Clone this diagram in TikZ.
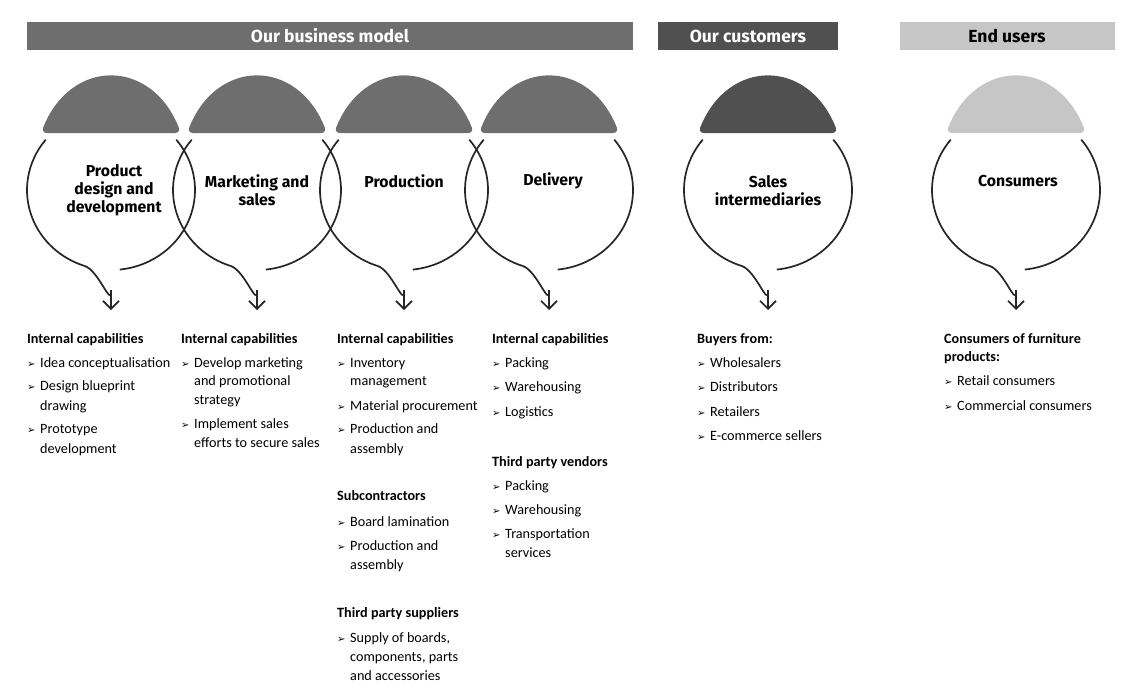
\documentclass[tikz,border=0pt]{standalone}
\usepackage{fontspec}
\setmainfont{Carlito}
\newfontfamily\hdf{Fira Sans}
\newfontfamily\blt{DejaVu Sans}
\usetikzlibrary{arrows.meta}
\definecolor{gA}{HTML}{6E6E6E}
\definecolor{gB}{HTML}{505050}
\definecolor{gC}{HTML}{C6C6C6}
\tikzset{
 hdr/.style={inner sep=0pt,font=\hdf\bfseries\fontsize{17.5}{20}\selectfont},
 lbl/.style={align=center,font=\hdf\bfseries\fontsize{15.8}{18}\selectfont},
 circ/.style={line width=1.7pt,draw=black!85},
 arr/.style={circ,-{Straight Barb[length=8pt,width=16pt,line width=1.7pt]}},
 hd/.style={anchor=base west,inner sep=0pt,font=\bfseries\fontsize{14.2}{16}\selectfont},
 it/.style={anchor=base west,inner sep=0pt,font=\fontsize{14.2}{16}\selectfont},
}
\newcommand{\bul}[3]{\node[it] at (#1,#2) {\makebox[13pt][l]{\blt\fontsize{10}{10}\selectfont ➢}#3};}
\newcommand{\cnt}[3]{\node[it] at (#1+13,#2) {#3};}
\newcommand{\stage}[3]{% cx, color, name
 \fill[#2,rounded corners=6pt] (#1-70,133) .. controls (#1-40,58) and (#1+40,58) .. (#1+70,133) -- cycle;
 \draw[circ] (#1,190) ++(219:84 and 80) arc[start angle=219,end angle=108,x radius=84,y radius=80]
   to[out=-20,in=-90] (#1,292);
 \draw[arr] (#1,290) -- (#1,310);
 \draw[circ] (#1,190) ++(-39:84 and 80) arc[start angle=-39,end angle=84,x radius=84,y radius=80];
}
\begin{document}
\begin{tikzpicture}[x=1pt,y=-1pt]
\useasboundingbox[fill=white] (0,0) rectangle (1131,697);
\fill[gA] (27,22) rectangle (633,50); \node[hdr,white] (h1) at (330,36) {Our business model};
\fill[gB] (658,22) rectangle (838,50); \node[hdr,white] (h2) at (748,36) {Our customers};
\fill[gC] (900,22) rectangle (1115,50); \node[hdr,black] (h3) at (1007,36) {End users};
\stage{111}{gA}{a}
\stage{257}{gA}{b}
\stage{404}{gA}{c}
\stage{549}{gA}{d}
\stage{768}{gB}{e}
\stage{1016}{gC}{f}
\node[lbl] (l1) at (114,190) {Product\\design and\\development};
\node[lbl] (l2) at (257,190) {Marketing and\\sales};
\node[lbl] (l3) at (404,181) {Production};
\node[lbl] (l4) at (553,181) {Delivery};
\node[lbl] (l5) at (768,191) {Sales\\intermediaries};
\node[lbl] (l6) at (1018,181) {Consumers};
% column 1
\node[hd] at (27,343) {Internal capabilities};
\bul{27}{367}{Idea conceptualisation}
\bul{27}{390}{Design blueprint}\cnt{27}{410}{drawing}
\bul{27}{433}{Prototype}\cnt{27}{453}{development}
% column 2
\node[hd] at (181,343) {Internal capabilities};
\bul{181}{367}{Develop marketing}\cnt{181}{385}{and promotional}\cnt{181}{404}{strategy}
\bul{181}{428}{Implement sales}\cnt{181}{447}{efforts to secure sales}
% column 3
\node[hd] at (337,343) {Internal capabilities};
\bul{337}{367}{Inventory}\cnt{337}{385}{management}
\bul{337}{410}{Material procurement}
\bul{337}{433}{Production and}\cnt{337}{453}{assembly}
\node[hd] at (337,500) {Subcontractors};
\bul{337}{526}{Board lamination}
\bul{337}{550}{Production and}\cnt{337}{569}{assembly}
\node[hd] at (337,617) {Third party suppliers};
\bul{337}{642}{Supply of boards,}\cnt{337}{661}{components, parts}\cnt{337}{680}{and accessories}
% column 4
\node[hd] at (492,343) {Internal capabilities};
\bul{492}{367}{Packing}
\bul{492}{391}{Warehousing}
\bul{492}{416}{Logistics}
\node[hd] at (492,466) {Third party vendors};
\bul{492}{490}{Packing}
\bul{492}{514}{Warehousing}
\bul{492}{538}{Transportation}\cnt{492}{557}{services}
% column 5
\node[hd] at (697,343) {Buyers from:};
\bul{697}{367}{Wholesalers}
\bul{697}{391}{Distributors}
\bul{697}{416}{Retailers}
\bul{697}{440}{E-commerce sellers}
% column 6
\node[hd] at (944,343) {Consumers of furniture};
\node[hd] at (944,361) {products:};
\bul{944}{385}{Retail consumers}
\bul{944}{410}{Commercial consumers}
\end{tikzpicture}
\end{document}
